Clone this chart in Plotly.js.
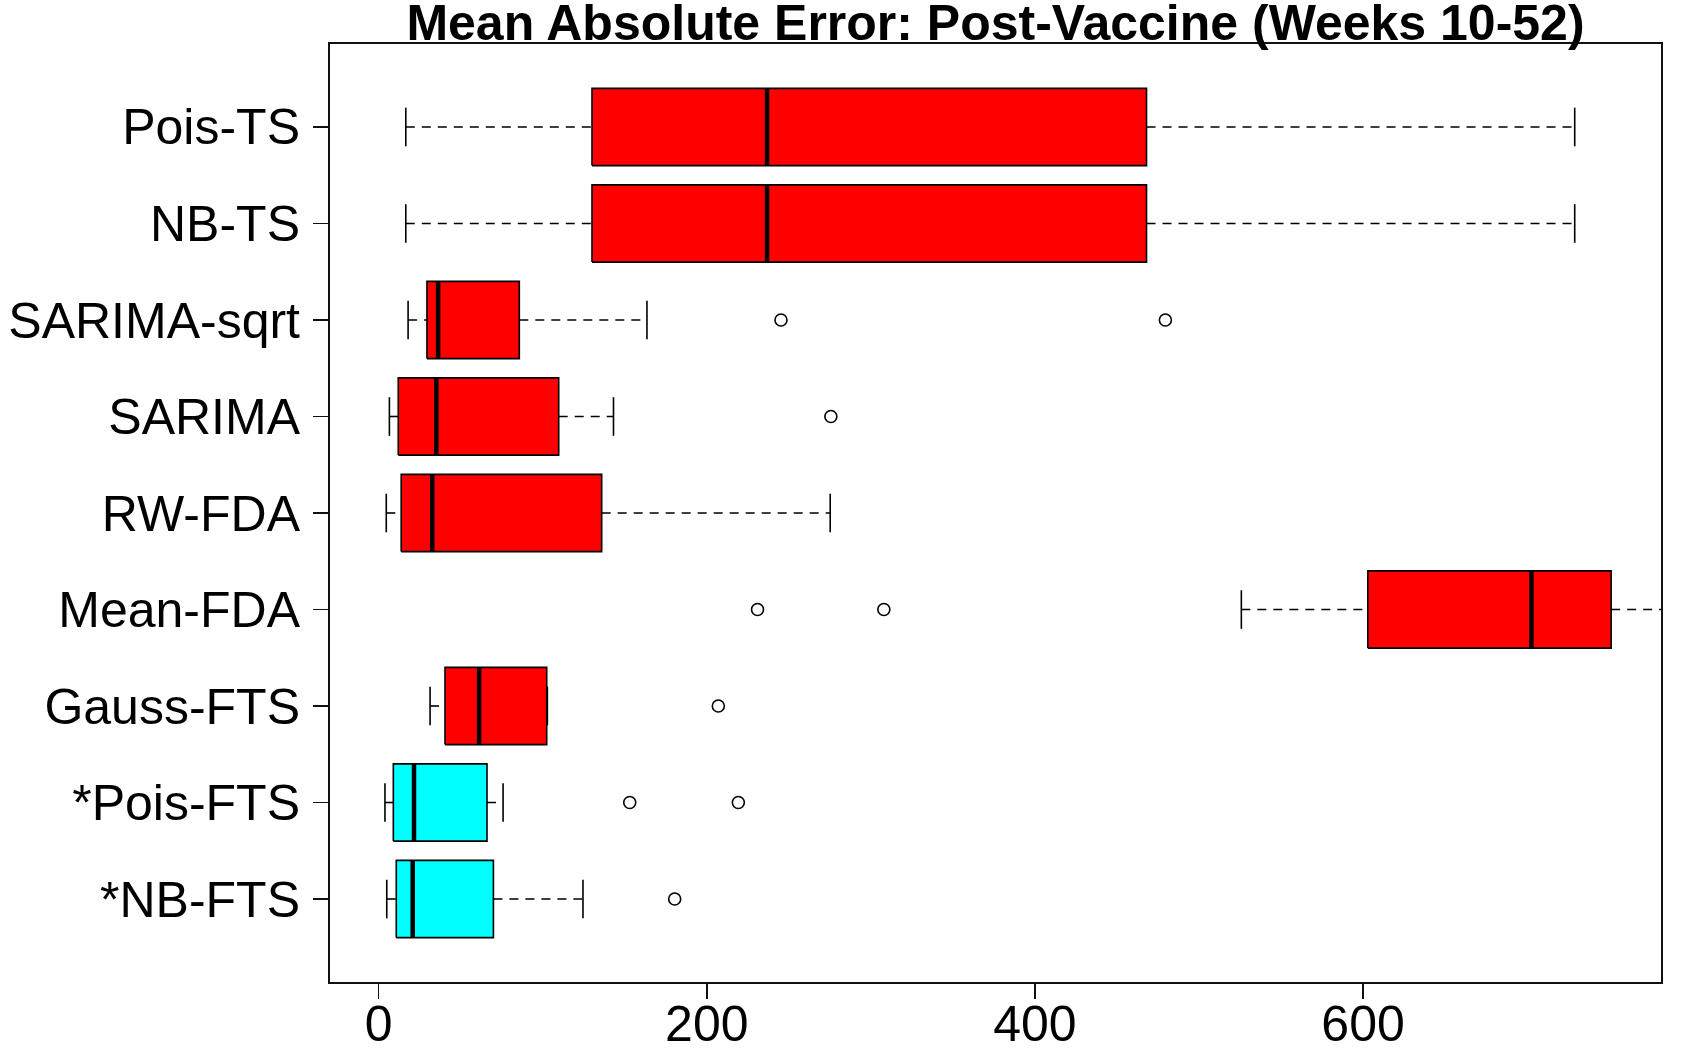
<!DOCTYPE html>
<html>
<head>
<meta charset="utf-8">
<script src="https://cdn.plot.ly/plotly-3.0.1.min.js"></script>
<style>
  html, body { margin: 0; padding: 0; background: #fff; }
  #chart { width: 1692px; height: 1058px; }
</style>
</head>
<body>
<div id="chart"></div>
<script>
// Forecasting methods, listed top to bottom
const methods = ['Pois-TS', 'NB-TS', 'SARIMA-sqrt', 'SARIMA', 'RW-FDA', 'Mean-FDA', 'Gauss-FTS', '*Pois-FTS', '*NB-FTS'];

// Five-number summaries of the mean absolute error per method
const whiskerLow  = [16.5, 16.5, 17.9,   6.5,   4.6, 525.8, 31.3,  3.8,  4.9];
const quart1      = [130.0, 130.0, 29.4, 11.9,  13.7, 602.9, 40.4,  8.9, 10.7];
const medians     = [236.7, 236.7, 36.2, 35.1,  32.6, 702.6, 61.2, 21.5, 20.7];
const quart3      = [468.0, 468.0, 85.7, 109.7, 135.9, 751.2, 102.4, 66.0, 69.9];
const whiskerHigh = [729.0, 729.0, 163.5, 143.1, 275.2, 795.0, 102.8, 75.8, 124.5];

// Outlying values per method
const outliers = [
  [], [], [245.2, 479.5], [275.6], [], [230.9, 307.9], [207.0], [153.0, 219.2], [180.4]
];

// Fill colour per method (proposed methods highlighted)
const fills = ['#FF0000', '#FF0000', '#FF0000', '#FF0000', '#FF0000', '#FF0000', '#FF0000', '#00FFFF', '#00FFFF'];

const xTicks = [0, 200, 400, 600];

// geometry of the boxes in axis units
const halfBox = 0.4;   // box width 0.8
const halfCap = 0.2;   // staple width 0.4
const n = methods.length;
const pos = methods.map((_, i) => n - i);

const traces = [];

// dashed whiskers
const wx = [], wy = [];
pos.forEach((y, i) => {
  wx.push(whiskerLow[i], quart1[i], null, quart3[i], whiskerHigh[i], null);
  wy.push(y, y, null, y, y, null);
});
traces.push({
  type: 'scatter', mode: 'lines', x: wx, y: wy, hoverinfo: 'skip',
  line: { color: '#000', width: 1.6, dash: '9px,7px' }
});

// whisker staples
const cx = [], cy = [];
pos.forEach((y, i) => {
  cx.push(whiskerLow[i], whiskerLow[i], null, whiskerHigh[i], whiskerHigh[i], null);
  cy.push(y - halfCap, y + halfCap, null, y - halfCap, y + halfCap, null);
});
traces.push({
  type: 'scatter', mode: 'lines', x: cx, y: cy, hoverinfo: 'skip',
  line: { color: '#000', width: 1.6 }
});

// boxes from first to third quartile
pos.forEach((y, i) => {
  traces.push({
    type: 'scatter', mode: 'lines', fill: 'toself', fillcolor: fills[i],
    x: [quart1[i], quart3[i], quart3[i], quart1[i], quart1[i]],
    y: [y - halfBox, y - halfBox, y + halfBox, y + halfBox, y - halfBox],
    line: { color: '#000', width: 1.6 }, name: methods[i], hoverinfo: 'skip'
  });
});

// median bars
const mx = [], my = [];
pos.forEach((y, i) => {
  mx.push(medians[i], medians[i], null);
  my.push(y - halfBox, y + halfBox, null);
});
traces.push({
  type: 'scatter', mode: 'lines', x: mx, y: my, hoverinfo: 'skip',
  line: { color: '#000', width: 4.5 }
});

// outlying points
const ox = [], oy = [];
pos.forEach((y, i) => {
  outliers[i].forEach(v => { ox.push(v); oy.push(y); });
});
traces.push({
  type: 'scatter', mode: 'markers', x: ox, y: oy,
  marker: { symbol: 'circle-open', size: 12, color: '#000', line: { width: 1.6, color: '#000' } }
});

const tickFont = { family: 'Liberation Sans, Arial, sans-serif', size: 50, color: '#000' };

const layout = {
  width: 1692, height: 1058,
  margin: { l: 330, r: 31, t: 44, b: 76, pad: 0 },
  paper_bgcolor: '#fff', plot_bgcolor: '#fff',
  showlegend: false,
  title: {
    text: 'Mean Absolute Error: Post-Vaccine (Weeks 10-52)',
    font: { family: 'Liberation Sans, Arial, sans-serif', size: 50, color: '#000', weight: 'bold' },
    xref: 'paper', x: 0.5, xanchor: 'center',
    yref: 'container', y: 1 - 22 / 1058, yanchor: 'middle'
  },
  xaxis: {
    range: [-29.7, 781.6], tickvals: xTicks, ticktext: xTicks.map(String),
    showgrid: false, zeroline: false,
    showline: true, mirror: true, linecolor: '#111', linewidth: 2,
    ticks: 'outside', ticklen: 15, tickwidth: 1.5, tickcolor: '#111',
    ticklabelstandoff: -18,
    tickfont: tickFont
  },
  yaxis: {
    range: [0.14, 9.86], tickvals: pos, ticktext: methods,
    showgrid: false, zeroline: false,
    showline: true, mirror: true, linecolor: '#111', linewidth: 2,
    ticks: 'outside', ticklen: 15, tickwidth: 1.5, tickcolor: '#111',
    ticklabelstandoff: 3,
    tickfont: tickFont
  }
};

Plotly.newPlot('chart', traces, layout, { displayModeBar: false, staticPlot: true });
</script>
</body>
</html>
